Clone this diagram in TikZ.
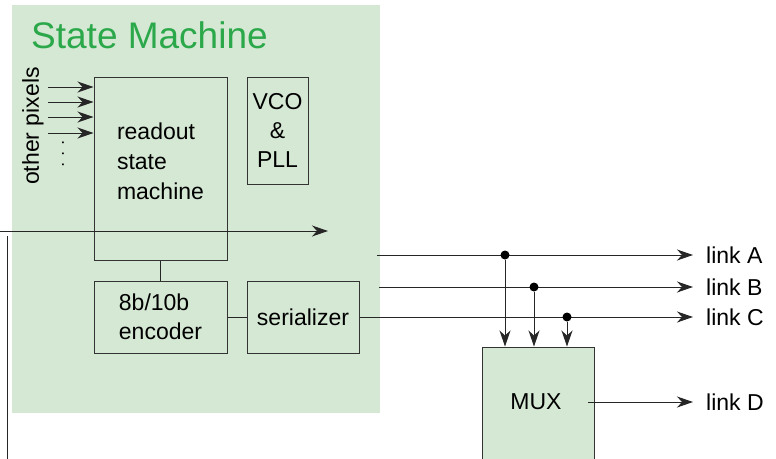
\documentclass[tikz,border=0pt]{standalone}
\usepackage{fontspec}
\setmainfont{Liberation Sans}
\usepackage{tikz}
\usetikzlibrary{arrows.meta}
\definecolor{smfill}{HTML}{D5E8D4}
\definecolor{smtitle}{HTML}{2BA84A}

\begin{document}
\begin{tikzpicture}[x=1pt, y=-1pt,
	blk/.style={draw=black!80, line width=1pt, rectangle, inner sep=0pt, font=\fontsize{23}{29}\selectfont},
	txt/.style={inner sep=0pt, font=\fontsize{23}{30}\selectfont},
	wire/.style={draw=black!85, line width=1pt},
	arr/.style={wire, -{Stealth[length=16pt, width=11pt, inset=5pt]}},
	jdot/.style={circle, fill=black, inner sep=0pt, minimum size=9pt},
	lnk/.style={txt, anchor=west, inner xsep=13pt}]
	\useasboundingbox (0,0) rectangle (776,458);

	% state machine area
	\node[fill=smfill, minimum width=368pt, minimum height=408pt, anchor=north west, inner sep=0pt] (sm) at (12,5) {};
	\node[anchor=west, text=smtitle, inner sep=0pt, font=\fontsize{37}{37}\selectfont] (title) at (31,35) {State Machine};

	\node[blk, minimum width=133pt, minimum height=183pt] (rsm) at (160.5,168.5) {};
	\node[txt, align=left] (rsmlbl) at (160.5,161) {readout\\state\\machine};
	\node[blk, minimum width=61pt, minimum height=107pt, align=center] (vco) at (277.5,130.5) {VCO\\\&\\PLL};
	\node[blk, minimum width=133pt, minimum height=72pt, align=left] (enc) at (160.5,317) {8b/10b\\encoder};
	\node[blk, minimum width=112pt, minimum height=72pt] (ser) at (303,317) {serializer};

	\node[txt, rotate=90] (pix) at (33,126) {other pixels};
	\node[inner sep=0pt, rotate=-90, font=\fontsize{17}{17}\selectfont] (more) at (63,154) {. . .};
	\foreach \y [count=\i] in {87,102,117,133} {
		\coordinate (pin\i) at (48,\y);
		\draw[arr] (pin\i) -- (pin\i -| rsm.west);
	}

	\draw[wire] (rsm.south) -- (enc.north);
	\draw[wire] (enc.east) -- (ser.west);

	\coordinate (busin) at (0,231);
	\coordinate (busout) at (328,231);
	\draw[arr] (busin) -- (busout);
	\coordinate (vtop) at (7,236);
	\coordinate (vbot) at (7,470);
	\draw[wire] (vtop) -- (vbot);

	% outputs and mux
	\node[blk, fill=smfill, minimum width=112pt, minimum height=124pt] (mux) at (538,409) {};
	\node[txt] (muxlbl) at (536,402) {MUX};

	\node[lnk] (la) at (693,255) {link A};
	\node[lnk] (lb) at (693,287) {link B};
	\node[lnk] (lc) at (693,317) {link C};
	\node[lnk] (ld) at (693,402) {link D};

	\coordinate (astart) at (377,255);
	\coordinate (bstart) at (379,287);
	\coordinate (mout) at (588,402);
	\draw[arr] (astart) -- (la.west);
	\draw[arr] (bstart) -- (lb.west);
	\draw[arr] (ser.east) -- (lc.west);
	\draw[arr] (mout) -- (ld.west);

	\node[jdot] (ja) at (505,255) {};
	\node[jdot] (jb) at (534,287) {};
	\node[jdot] (jc) at (567,317) {};
	\foreach \j in {ja,jb,jc}
		\draw[arr] (\j) -- (\j |- mux.north);

\end{tikzpicture}
\end{document}
